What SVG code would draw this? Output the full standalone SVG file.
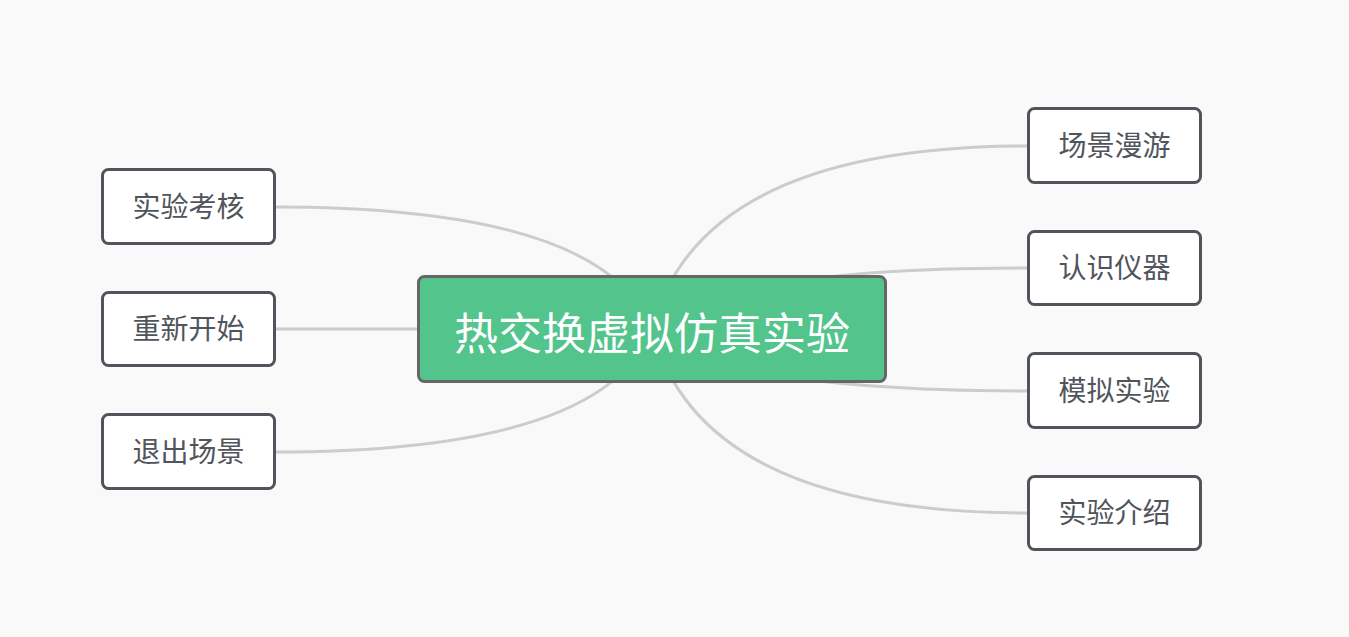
<svg xmlns="http://www.w3.org/2000/svg" width="1349" height="637" viewBox="0 0 1349 637">
<style>
.bg{fill:#f9f9f9}
.link{fill:none;stroke:#cccccc;stroke-width:3}
.leaf rect{fill:#ffffff;stroke:#50555c;stroke-width:3}
.leaf text{font-family:"Noto Sans CJK SC","Noto Sans",sans-serif;font-size:28px;fill:#50555c;text-anchor:middle}
#root rect{fill:#52c48c;stroke:#666666;stroke-width:3}
#root text{font-family:"Noto Sans CJK SC","Noto Sans",sans-serif;font-size:44px;fill:#ffffff;text-anchor:middle}
</style>
<rect class="bg" x="0" y="0" width="1349" height="637"/>
<g id="connectors">
<path class="link" d="M652,329 Q604,207 275,207"/>
<path class="link" d="M652,329 L275,329"/>
<path class="link" d="M652,329 Q604,452 275,452"/>
<path class="link" d="M652,329 Q700,146 1028,146"/>
<path class="link" d="M652,329 Q720,268 1028,268"/>
<path class="link" d="M652,329 Q720,391 1028,391"/>
<path class="link" d="M652,329 Q700,513 1028,513"/>
</g>
<g id="root">
<rect x="418.5" y="276.5" width="467" height="105" rx="6"/>
<text x="652" y="350">热交换虚拟仿真实验</text>
</g>
<g id="n-kaohe" class="leaf">
<rect x="102.5" y="169.5" width="172" height="74" rx="6"/>
<text x="188.5" y="217">实验考核</text>
</g>
<g id="n-chongxin" class="leaf">
<rect x="102.5" y="292.5" width="172" height="73" rx="6"/>
<text x="188.5" y="339">重新开始</text>
</g>
<g id="n-tuichu" class="leaf">
<rect x="102.5" y="414.5" width="172" height="74" rx="6"/>
<text x="188.5" y="462">退出场景</text>
</g>
<g id="n-manyou" class="leaf">
<rect x="1028.5" y="108.5" width="172" height="74" rx="6"/>
<text x="1114.5" y="156">场景漫游</text>
</g>
<g id="n-yiqi" class="leaf">
<rect x="1028.5" y="231.5" width="172" height="73" rx="6"/>
<text x="1114.5" y="278">认识仪器</text>
</g>
<g id="n-moni" class="leaf">
<rect x="1028.5" y="353.5" width="172" height="74" rx="6"/>
<text x="1114.5" y="401">模拟实验</text>
</g>
<g id="n-jieshao" class="leaf">
<rect x="1028.5" y="476.5" width="172" height="73" rx="6"/>
<text x="1114.5" y="523">实验介绍</text>
</g>
</svg>
